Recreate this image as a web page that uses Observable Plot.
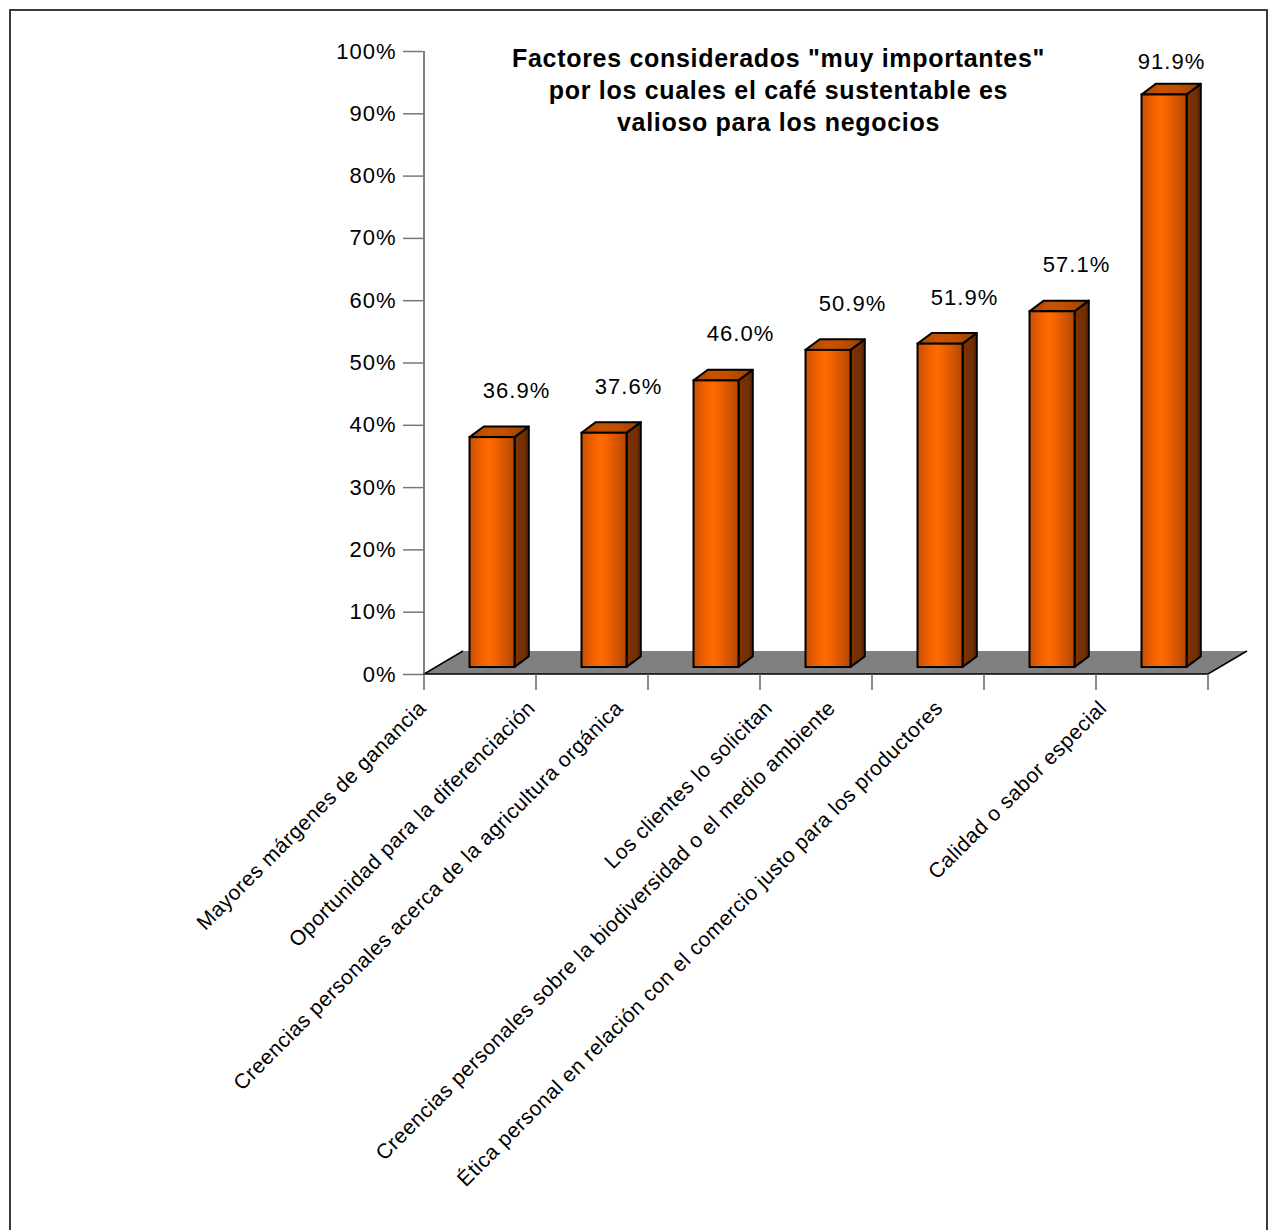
<!DOCTYPE html>
<html>
<head>
<meta charset="utf-8">
<script src="https://cdn.jsdelivr.net/npm/d3@7"></script>
<script src="https://cdn.jsdelivr.net/npm/@observablehq/plot@0.6"></script>
<style>
  html, body { margin: 0; padding: 0; background: #fff; overflow: hidden; }
  #wrap { position: relative; width: 1278px; height: 1230px; }
  #chart { position: absolute; left: 0; top: 0; }
  #border { position: absolute; left: 9px; top: 9px; width: 1259px; height: 1300px;
            border: 2px solid #3a3a3a; box-sizing: border-box; pointer-events: none; }
  svg text { letter-spacing: 1px; }
  svg g.catlabel text { letter-spacing: 0.5px; }
  svg g.title text { letter-spacing: 0.7px; }
</style>
</head>
<body>
<div id="wrap"><div id="chart"></div><div id="border"></div></div>
<script>
// ---- data ----
const categories = [
  "Mayores márgenes de ganancia",
  "Oportunidad para la diferenciación",
  "Creencias personales acerca de la agricultura orgánica",
  "Los clientes lo solicitan",
  "Creencias personales sobre la biodiversidad o el medio ambiente",
  "Ética personal en relación con el comercio justo para los productores",
  "Calidad o sabor especial"
];
const values = [36.9, 37.6, 46.0, 50.9, 51.9, 57.1, 91.9];
const valueLabels = ["36.9%", "37.6%", "46.0%", "50.9%", "51.9%", "57.1%", "91.9%"];
const yTicks = [0, 10, 20, 30, 40, 50, 60, 70, 80, 90, 100];
const titleLines = [
  "Factores considerados \"muy importantes\"",
  "por los cuales el café sustentable es",
  "valioso para los negocios"
];

const data = categories.map((c, i) => ({category: c, value: values[i], label: valueLabels[i]}));

// ---- styling / 3D geometry (pixels) ----
const FONT = "'Liberation Sans', Arial, sans-serif";
const FRONT_DY = -7;
const BAR_DX = 14.3, BAR_DY = -10.6;
const FLOOR_DX = 39, FLOOR_DY = -23;
const INSET_L = 45.5, INSET_R = 21.5;
const CAT_FONT = 21, CAT_LS = 0.5;

// measure label length (for Excel-like placement of rotated labels)
const ctx = document.createElement("canvas").getContext("2d");
ctx.font = `${CAT_FONT}px 'Liberation Sans', Arial, sans-serif`;
const textLen = s => ctx.measureText(s).width + s.length * CAT_LS;

function bandStep(scales) {
  return scales.x(categories[1]) - scales.x(categories[0]);
}

function defsMark() {
  const defs = d3.create("svg:defs");
  const grad = (id, stops) => {
    const g = defs.append("linearGradient").attr("id", id)
      .attr("x1", 0).attr("x2", 1).attr("y1", 0).attr("y2", 0);
    stops.forEach(([o, c]) => g.append("stop").attr("offset", o).attr("stop-color", c));
  };
  grad("frontGrad", [[0, "#c24e00"], [0.12, "#d85800"], [0.3, "#f56300"], [0.45, "#ff6a00"],
                     [0.62, "#ec5f00"], [0.8, "#d25400"], [1, "#b44800"]]);
  grad("sideGrad", [[0, "#7c3100"], [0.6, "#743000"], [1, "#5a2300"]]);
  grad("topGrad", [[0, "#a84400"], [0.35, "#c85300"], [0.6, "#c04f00"], [1, "#984000"]]);
  return defs.node();
}

function floorMark(index, scales, vals, dims) {
  const g = d3.create("svg:g");
  const step = bandStep(scales);
  const x0 = scales.x(categories[0]);
  const x1 = scales.x(categories[categories.length - 1]) + step;
  const y0 = scales.y(0);
  g.append("path")
    .attr("d", `M${x0},${y0}L${x0 + FLOOR_DX},${y0 + FLOOR_DY}L${x1 + FLOOR_DX},${y0 + FLOOR_DY}L${x1},${y0}Z`)
    .attr("fill", "#808080");
  g.append("path")
    .attr("d", `M${x0 + FLOOR_DX},${y0 + FLOOR_DY}L${x0},${y0}L${x1},${y0}L${x1 + FLOOR_DX},${y0 + FLOOR_DY}`)
    .attr("fill", "none").attr("stroke", "#000").attr("stroke-width", 1.5);
  g.append("line").attr("x1", x0).attr("x2", x0)
    .attr("y1", scales.y(100)).attr("y2", y0)
    .attr("stroke", "#555").attr("stroke-width", 1.5);
  const bounds = categories.map(c => scales.x(c)).concat([x1]);
  bounds.forEach(b => {
    g.append("line").attr("x1", b).attr("x2", b).attr("y1", y0).attr("y2", y0 + 16)
      .attr("stroke", "#666").attr("stroke-width", 1.5);
  });
  return g.node();
}

function barFaces(index, scales, vals, dims) {
  const g = d3.create("svg:g");
  const step = bandStep(scales);
  data.forEach(d => {
    const bx = scales.x(d.category);
    const xl = bx + INSET_L, xr = bx + step - INSET_R;
    const yt = scales.y(d.value) + FRONT_DY, yb = scales.y(0) + FRONT_DY;
    g.append("path")
      .attr("d", `M${xr},${yt}L${xr + BAR_DX},${yt + BAR_DY}L${xr + BAR_DX},${yb + BAR_DY}L${xr},${yb}Z`)
      .attr("fill", "url(#sideGrad)").attr("stroke", "#000").attr("stroke-width", 2)
      .attr("stroke-linejoin", "round");
    g.append("path")
      .attr("d", `M${xl},${yt}L${xl + BAR_DX},${yt + BAR_DY}L${xr + BAR_DX},${yt + BAR_DY}L${xr},${yt}Z`)
      .attr("fill", "url(#topGrad)").attr("stroke", "#000").attr("stroke-width", 2)
      .attr("stroke-linejoin", "round");
  });
  return g.node();
}

const categoryLabelMarks = categories.map(c => Plot.text([c], {
  x: d => d, y: d => 0, text: d => d,
  rotate: -45, textAnchor: "end", lineAnchor: "middle",
  dy: 30, dx: -(20.6 + 0.119 * textLen(c)),
  fontSize: CAT_FONT, fill: "#000", className: "catlabel"
}));

const valueLabelMarks = data.map((d, i) => Plot.text([d], {
  x: "category", y: v => Math.min(v.value + 8.6, 98.4), text: "label",
  dx: i === data.length - 1 ? 19 : 36,
  fontSize: 22, fill: "#000"
}));

const chart = Plot.plot({
  width: 1278,
  height: 1230,
  marginLeft: 423,
  marginRight: 70,
  marginTop: 51,
  marginBottom: 556,
  style: {fontFamily: FONT, fontSize: "22px", color: "#000", background: "transparent"},
  x: {type: "band", domain: categories, paddingInner: 0, paddingOuter: 0, axis: null},
  y: {domain: [0, 100], axis: null, label: null},
  marks: [
    defsMark,
    floorMark,
    Plot.axisY({ticks: yTicks, tickFormat: d => d + "%", tickSize: 20, tickPadding: 7,
                stroke: "#777", fill: "#000", fontSize: 22, strokeWidth: 1.5, label: null}),
    barFaces,
    Plot.barY(data, {x: "category", y: "value", fill: "url(#frontGrad)",
                     stroke: "#000", strokeWidth: 2, insetLeft: INSET_L, insetRight: INSET_R,
                     dy: FRONT_DY}),
    ...valueLabelMarks,
    ...categoryLabelMarks,
    Plot.text([titleLines.join("\n")], {
      text: d => d, frameAnchor: "top", lineAnchor: "top",
      dx: -37.5, dy: -7, fontSize: 25, fontWeight: "bold", lineHeight: 1.27, fill: "#000",
      className: "title"
    })
  ]
});

document.getElementById("chart").appendChild(chart);
</script>
</body>
</html>
